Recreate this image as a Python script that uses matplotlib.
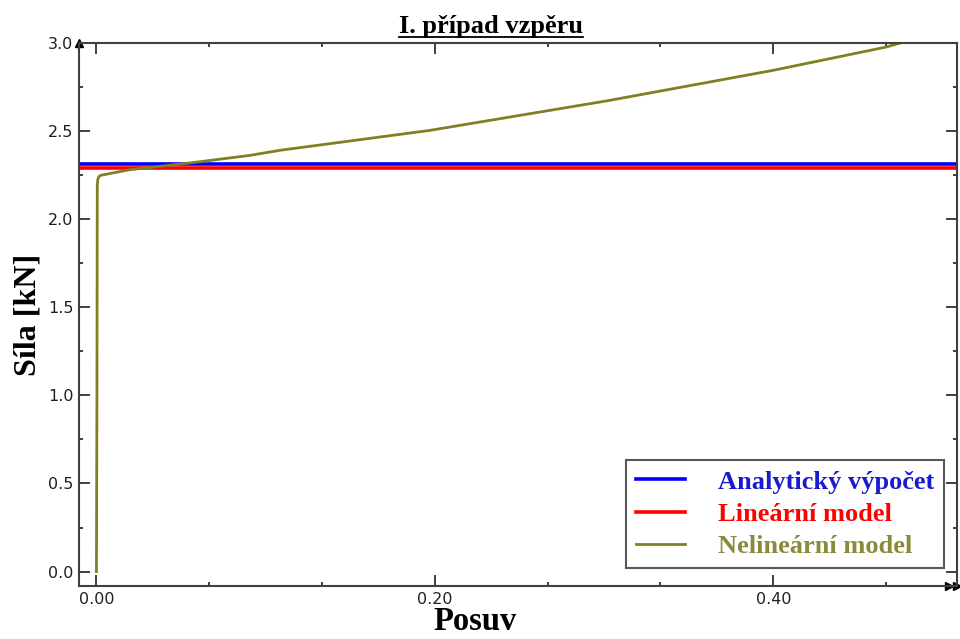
import matplotlib
matplotlib.use("Agg")
import matplotlib.pyplot as plt
from matplotlib.ticker import MultipleLocator, FixedLocator, FormatStrFormatter
from matplotlib.lines import Line2D

# ---- data ----
analytic_force = 2.312
linear_force = 2.291
nonlin_disp = [0.0, 0.0003, 0.0005, 0.0008, 0.0013, 0.0025, 0.0197, 0.0552, 0.0906,
               0.1084, 0.197, 0.2975, 0.303, 0.400, 0.4667, 0.475]
nonlin_force = [0.0, 1.0, 2.19, 2.225, 2.240, 2.249, 2.281, 2.319, 2.362,
                2.391, 2.504, 2.665, 2.674, 2.845, 2.977, 3.0]
series_names = ["Analytický výpočet", "Lineární model", "Nelineární model"]
series_colors = ["#0000ff", "#ff0000", "#808020"]
text_colors = ["#1a1ad0", "#ff0000", "#8a8a3c"]
x_major = [0.0, 0.2, 0.4]
x_labels = ["0.00", "0.20", "0.40"]

serif = ["Liberation Serif", "DejaVu Serif"]

fig = plt.figure(figsize=(9.6, 6.39), dpi=100)
ax = fig.add_axes([0.0823, 0.0829, 0.9146, 0.8498])

xmin, xmax = -0.0103, 0.5086
ax.axhline(analytic_force, color=series_colors[0], lw=2.6, label=series_names[0])
ax.axhline(linear_force, color=series_colors[1], lw=2.6, label=series_names[1])
ax.plot(nonlin_disp, nonlin_force, color=series_colors[2], lw=2.0, label=series_names[2])

ax.set_xlim(xmin, xmax)
ax.set_ylim(-0.082, 3.0)

ax.xaxis.set_major_locator(FixedLocator(x_major))
ax.set_xticklabels(x_labels)
ax.xaxis.set_minor_locator(MultipleLocator(1/15))
ax.yaxis.set_major_locator(MultipleLocator(0.5))
ax.yaxis.set_minor_locator(MultipleLocator(0.25))
ax.yaxis.set_major_formatter(FormatStrFormatter("%.1f"))

ax.tick_params(which="both", direction="in", top=True, right=True, colors="#303030",
               labelcolor="#202020", labelsize=11.5, width=1.3)
ax.tick_params(which="major", length=8)
ax.tick_params(which="minor", length=3)
ax.tick_params(axis="x", pad=4)
ax.tick_params(axis="y", pad=4)
for s in ax.spines.values():
    s.set_color("#404040")
    s.set_linewidth(1.5)

# axis arrows
ax.plot([0], [1], marker="^", color="black", markersize=6, transform=ax.transAxes, clip_on=False)
ax.plot([0.991, 1.0], [0, 0], ls="none", marker=">", color="black", markersize=6,
        transform=ax.transAxes, clip_on=False)

ax.set_xlabel("Posuv", fontsize=23.5, fontweight="bold", family=serif)
ax.xaxis.set_label_coords(0.451, -0.037, transform=ax.transAxes)
ax.xaxis.label.set_va("top")
ax.set_ylabel("Síla [kN]", fontsize=23, fontweight="bold", family=serif, labelpad=4)

title = fig.text(0.511, 1 - 33 / 639, "I. případ vzpěru", fontsize=19, fontweight="bold",
                 family=serif, ha="center", va="baseline")

leg = ax.legend(loc="lower right", bbox_to_anchor=(0.985, 0.033), frameon=True, fancybox=False,
                prop={"family": serif, "weight": "bold", "size": 19},
                handlelength=1.85, handletextpad=1.25, borderpad=0.38, labelspacing=0.33,
                borderaxespad=0, edgecolor="#303030")
leg.get_frame().set_linewidth(1.5)
for t, c in zip(leg.get_texts(), text_colors):
    t.set_color(c)

# underline for the title
fig.canvas.draw()
bb = title.get_window_extent(fig.canvas.get_renderer()).transformed(fig.transFigure.inverted())
uy = 1 - 37 / 639
fig.add_artist(Line2D([bb.x0, bb.x1], [uy, uy], color="black", lw=1.3, transform=fig.transFigure))

fig.savefig("out.png", dpi=100)
